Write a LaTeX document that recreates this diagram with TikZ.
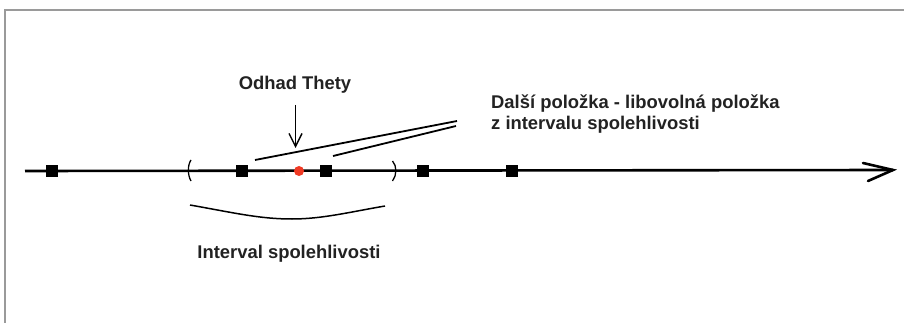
\documentclass[tikz,border=0pt]{standalone}
\usepackage{fontspec}
\setmainfont{Liberation Sans}
\usetikzlibrary{arrows.meta}
\definecolor{txtgray}{HTML}{222222}
\definecolor{framegray}{HTML}{9A9A9A}
\definecolor{dotred}{HTML}{F03A24}
\tikzset{
  lbl/.style={font=\fontsize{18.4}{21}\selectfont\bfseries, text=txtgray, inner sep=0pt},
  axisline/.style={line width=2.6pt, black},
  pt/.style={fill=black, minimum size=11.5pt, inner sep=0pt, draw=none},
  thin/.style={line width=1.3pt, black},
  diag/.style={line width=1.8pt, black}
}
\begin{document}
\begin{tikzpicture}[x=1pt,y=-1pt]
\useasboundingbox (0,0) rectangle (904,323);
% frame
\draw[framegray, line width=1.5pt] (5,323) -- (5,10) -- (904,10);
% axis
\coordinate (axs) at (25,171);
\coordinate (axe) at (893,170);
\draw[axisline] (axs) -- (axe);
\coordinate (tipa) at (863,163);
\coordinate (tipb) at (868,181);
\draw[line width=2.6pt, line cap=round] (tipa) -- (axe) -- (tipb);
% points
\node[pt] (p1) at (52,171) {};
\node[pt] (p2) at (242,171) {};
\node[pt] (p3) at (326,171) {};
\node[pt] (p4) at (423,171) {};
\node[pt] (p5) at (512,171) {};
\node[circle, fill=dotred, minimum size=10pt, inner sep=0pt] (theta) at (299,171) {};
% parentheses
\draw[thin] (191,160) .. controls (187.5,165) and (187.5,175) .. (191,181);
\draw[thin] (392.5,161) .. controls (397,166) and (397,175) .. (392.5,181);
% labels
\node[lbl, anchor=base] (odhad) at (295,90) {Odhad Thety};
\node[lbl, anchor=base west, align=left] (dalsi) at (491,130) {Další položka - libovolná položka\\z intervalu spolehlivosti};
\node[lbl, anchor=base] (interval) at (289,258) {Interval spolehlivosti};
% arrow to estimate
\coordinate (arrs) at (295.5,105);
\coordinate (arre) at (295.5,148);
\draw[line width=1.4pt, -{Straight Barb[length=13pt, width=13pt, line width=1.4pt]}] (arrs) -- (arre);
% diagonal pointer lines
\coordinate (d1s) at (255,160);
\coordinate (d1e) at (457,121);
\coordinate (d2s) at (333,156);
\coordinate (d2e) at (456,126);
\draw[diag] (d1s) -- (d1e);
\draw[diag] (d2s) -- (d2e);
% brace under interval
\draw[line width=1.5pt] (190,205) .. controls (235,213) and (260,219) .. (292,219) .. controls (322,219) and (350,212) .. (385,206);
\end{tikzpicture}
\end{document}
